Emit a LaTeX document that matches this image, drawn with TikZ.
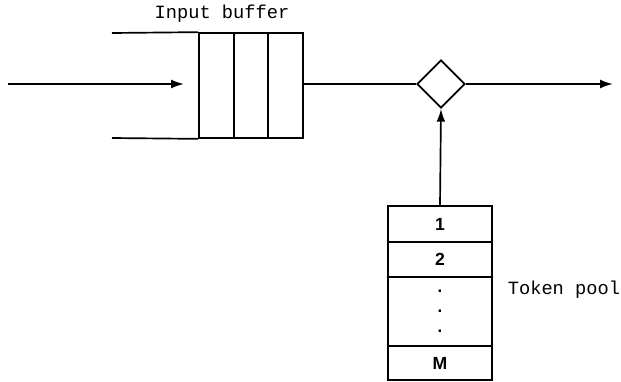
\documentclass[tikz,border=0pt]{standalone}
\usepackage{fontspec}
\setmainfont{Liberation Sans}
\newfontfamily\courier{Liberation Mono}
\usetikzlibrary{positioning,arrows.meta,shapes.geometric}

\begin{document}
\begin{tikzpicture}[x=0.025cm, y=-0.025cm, line width=1.2pt,
    cell/.style={rectangle, draw, minimum width=0.875cm, minimum height=2.625cm, inner sep=0pt},
    slot/.style={rectangle, draw, minimum width=2.6cm, inner sep=0pt, outer sep=0pt,
          font=\fontsize{12.5}{14.2}\selectfont\bfseries},
    tag/.style={font=\courier\fontsize{13.3}{15}\selectfont, inner sep=0pt},
    arr/.style={-{Latex[length=0.32cm,width=0.22cm]}}]
    \useasboundingbox (0,0) rectangle (621,382);
    % input buffer
    \node[cell] (c1) at (216.5,85.5) {};
    \node[cell] (c2) at (251,85.5) {};
    \node[cell] (c3) at (285.5,85.5) {};
    \coordinate (top) at (112,33);
    \coordinate (bot) at (112,138);
    \draw (top) -- (c1.north west);
    \draw (bot) -- (c1.south west);
    \node[tag] (ib) at (222,14) {Input buffer};
    \coordinate (in) at (8,84);
    \coordinate (inend) at (184,84);
    \draw[arr] (in) -- (inend);
    % merge point
    \node[diamond, draw, minimum size=1.2cm, inner sep=0pt] (M) at (441,84) {};
    \coordinate (out) at (613,84);
    \draw (c3.east |- M) -- (M.west);
    \draw[arr] (M.east) -- (out);
    % token pool
    \node[slot, minimum height=0.9cm] (t1) at (440,224) {1};
    \node[slot, minimum height=0.875cm, below=0pt of t1] (t2) {2};
    \node[slot, minimum height=1.725cm, below=0pt of t2,
          align=center, font=\fontsize{12}{14.2}\selectfont\bfseries] (td) {.\\.\\.};
    \node[slot, minimum height=0.85cm, below=0pt of td] (tm) {M};
    \node[tag, anchor=west] (tp) at (507,290) {Token pool};
    \draw[arr] (t1.north) -- (M.south);
\end{tikzpicture}
\end{document}
